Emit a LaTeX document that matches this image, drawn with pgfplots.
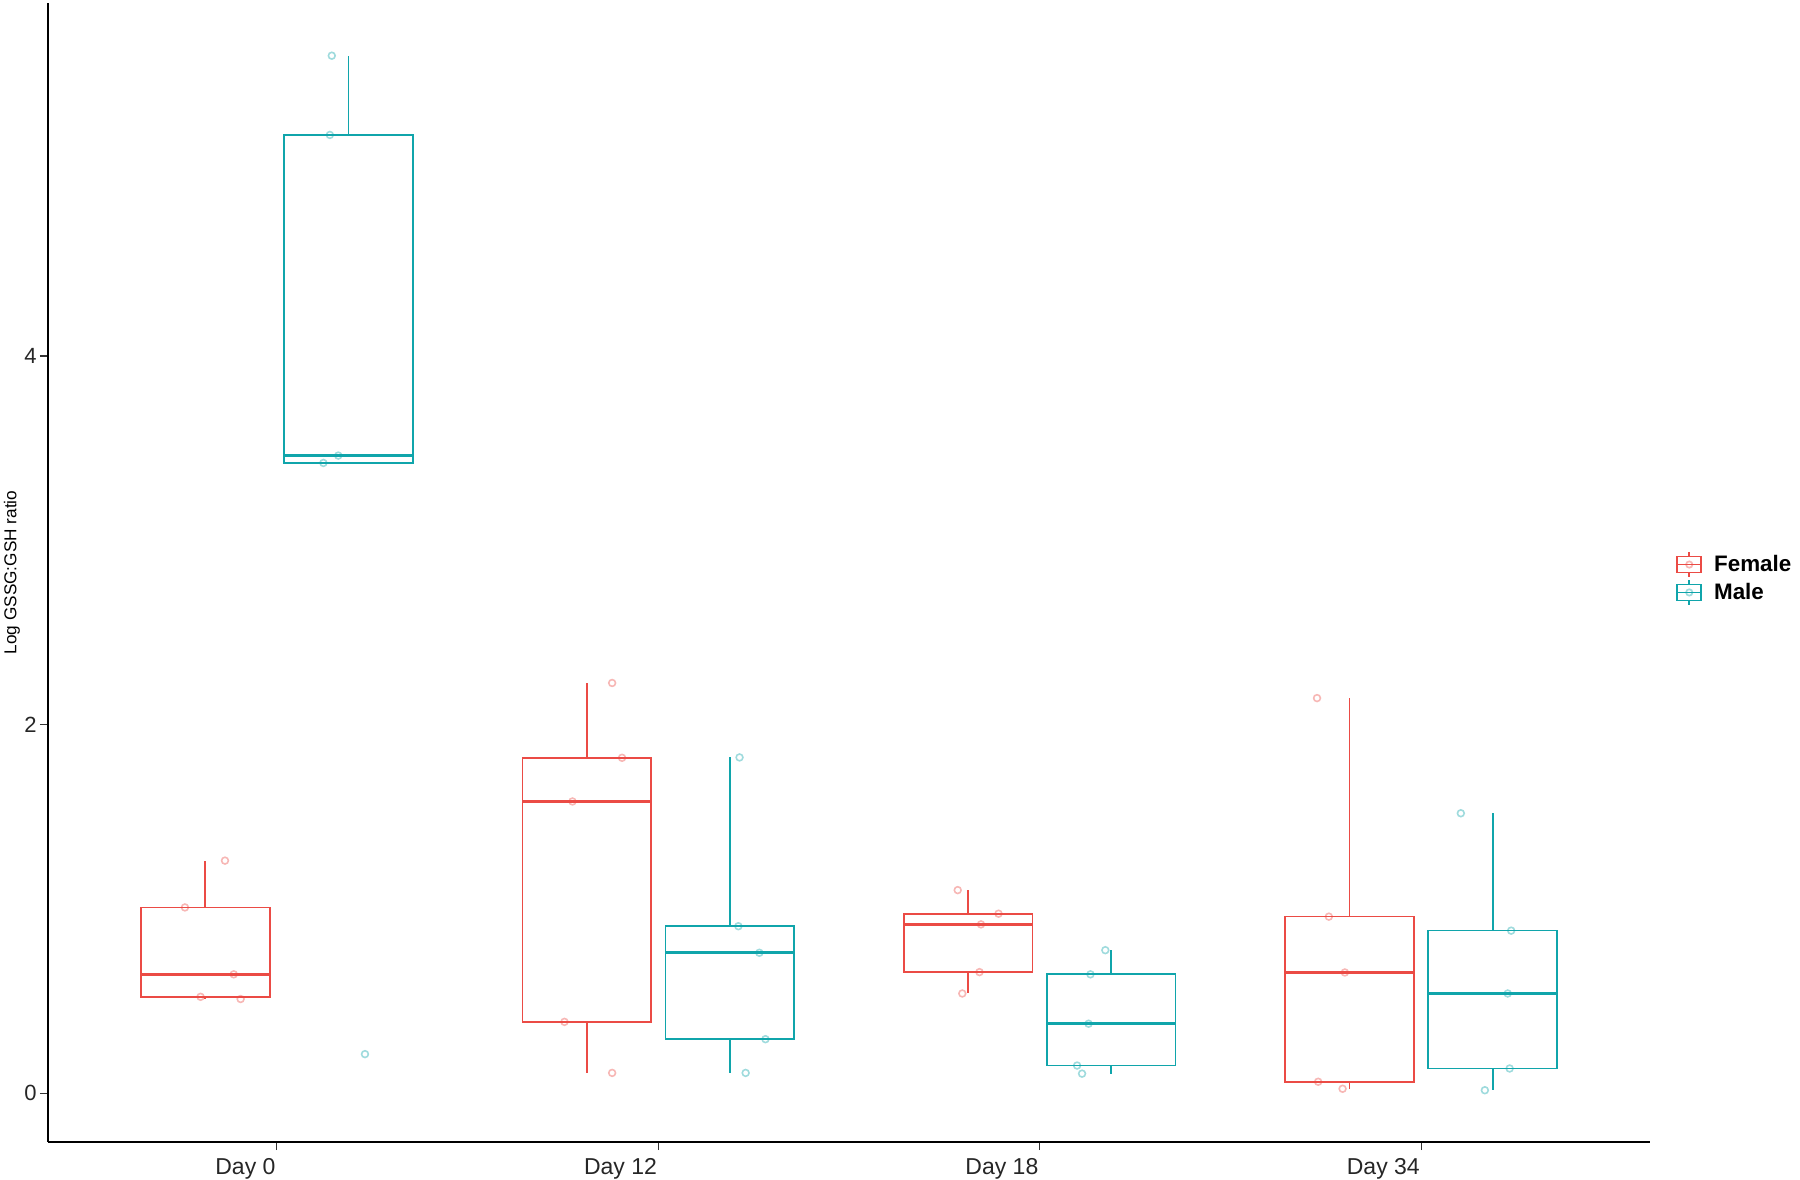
\documentclass[border=0pt]{standalone}
\usepackage{fontspec}
\setmainfont{Liberation Sans}
\usepackage{pgfplots}
\pgfplotsset{compat=1.18}
\usepgfplotslibrary{statistics}

\definecolor{femred}{HTML}{EB4B45}
\definecolor{maleteal}{HTML}{10A5AB}

% raw observations, x = group + jitter
\pgfplotstableread{
x      y
0.864  1.262
0.759  1.008
0.887  0.645
0.800  0.523
0.905  0.511
1.879  2.226
1.905  1.820
1.775  1.583
1.754  0.387
1.879  0.110
2.785  1.102
2.892  0.974
2.846  0.916
2.842  0.657
2.797  0.541
3.727  2.144
3.758  0.958
3.800  0.655
3.730  0.062
3.794  0.024
}\femalepts
\pgfplotstableread{
x      y
1.144  5.630
1.139  5.200
1.161  3.460
1.122  3.420
1.231  0.212
2.213  1.822
2.210  0.906
2.265  0.762
2.281  0.293
2.229  0.110
3.172  0.776
3.133  0.645
3.128  0.377
3.098  0.150
3.111  0.106
4.104  1.519
4.236  0.882
4.227  0.541
4.232  0.134
4.167  0.016
}\malepts

\pgfplotsset{
  boxglyph/.style={legend image code/.code={
    \draw (0pt,-4pt) rectangle (12pt,4pt);
    \draw (6pt,4pt) -- (6pt,6.3pt);
    \draw (6pt,-4pt) -- (6pt,-6.3pt);
    \draw (0pt,0pt) -- (12pt,0pt);
    \draw[opacity=0.4] (6pt,0pt) circle (1.6pt);}},
}

\begin{document}
\begin{tikzpicture}
\begin{axis}[
    scale only axis,
    width=801pt, height=569.5pt,
    xmin=0.4, xmax=4.6,
    ymin=-0.265, ymax=5.916,
    axis lines=left,
    axis line style={-, line width=1pt, black},
    xtick={1,2,3,4},
    xticklabels={Day 0, Day 12, Day 18, Day 34},
    ytick={0,2,4},
    tick align=outside,
    major tick length=4pt,
    tick style={line width=0.6pt, black!80},
    xticklabel style={anchor=north east, inner sep=0pt, yshift=-4pt, xshift=-0.5pt,
        font=\fontsize{11.5}{13}\selectfont, text=black!85},
    yticklabel style={inner sep=0pt, xshift=-1.5pt,
        font=\fontsize{11}{12}\selectfont, text=black!85},
    /pgf/number format/assume math mode=true,
    ylabel={Log GSSG:GSH ratio},
    every axis y label/.style={at={(rel axis cs:0,0.5)}, xshift=-18pt, rotate=90,
        anchor=center, font=\fontsize{8.6}{10}\selectfont},
    boxplot/draw direction=y,
    boxplot/box extend=0.3375,
    boxplot/whisker extend=0,
    boxplot/every median/.style={line width=1.7pt},
    legend style={at={(rel axis cs:1,0.5)}, anchor=west, xshift=13pt, yshift=-3pt,
        draw=none, fill=none, inner sep=0pt, row sep=0.5pt,
        font=\bfseries\fontsize{11.2}{13}\selectfont,
        nodes={inner sep=1.5pt},
        /tikz/every odd column/.append style={column sep=4.5pt}},
    legend cell align=left,
    clip=false,
]
\coordinate (ll) at (rel axis cs:0,0);
\coordinate (ur) at (rel axis cs:1,1);

% female boxes
\addplot[draw=femred, line width=0.85pt, forget plot, boxplot prepared={draw position=0.8125,
    lower whisker=0.511, lower quartile=0.523, median=0.645, upper quartile=1.008, upper whisker=1.262}] coordinates {};
\addplot[draw=femred, line width=0.85pt, forget plot, boxplot prepared={draw position=1.8125,
    lower whisker=0.110, lower quartile=0.387, median=1.583, upper quartile=1.820, upper whisker=2.226}] coordinates {};
\addplot[draw=femred, line width=0.85pt, forget plot, boxplot prepared={draw position=2.8125,
    lower whisker=0.541, lower quartile=0.657, median=0.916, upper quartile=0.974, upper whisker=1.102}] coordinates {};
\addplot[draw=femred, line width=0.85pt, forget plot, boxplot prepared={draw position=3.8125,
    lower whisker=0.024, lower quartile=0.062, median=0.655, upper quartile=0.958, upper whisker=2.144}] coordinates {};

% male boxes
\addplot[draw=maleteal, line width=0.85pt, forget plot, boxplot prepared={draw position=1.1875,
    lower whisker=3.420, lower quartile=3.420, median=3.460, upper quartile=5.200, upper whisker=5.630}] coordinates {};
\addplot[draw=maleteal, line width=0.85pt, forget plot, boxplot prepared={draw position=2.1875,
    lower whisker=0.110, lower quartile=0.293, median=0.762, upper quartile=0.906, upper whisker=1.822}] coordinates {};
\addplot[draw=maleteal, line width=0.85pt, forget plot, boxplot prepared={draw position=3.1875,
    lower whisker=0.106, lower quartile=0.150, median=0.377, upper quartile=0.645, upper whisker=0.776}] coordinates {};
\addplot[draw=maleteal, line width=0.85pt, forget plot, boxplot prepared={draw position=4.1875,
    lower whisker=0.016, lower quartile=0.134, median=0.541, upper quartile=0.882, upper whisker=1.519}] coordinates {};

% jittered points
\addplot[only marks, mark=o, mark size=1.7pt, femred, opacity=0.4, line width=0.8pt, forget plot]
    table[x=x, y=y] {\femalepts};
\addplot[only marks, mark=o, mark size=1.7pt, maleteal, opacity=0.4, line width=0.8pt, forget plot]
    table[x=x, y=y] {\malepts};

% legend glyphs
\addlegendimage{femred, line width=0.85pt, boxglyph}
\addlegendentry{Female}
\addlegendimage{maleteal, line width=0.85pt, boxglyph}
\addlegendentry{Male}
\end{axis}
\pgfresetboundingbox
\path ([shift={(-24pt,-18.5pt)}]ll) rectangle ([shift={(75pt,1.5pt)}]ur);
\end{tikzpicture}
\end{document}
